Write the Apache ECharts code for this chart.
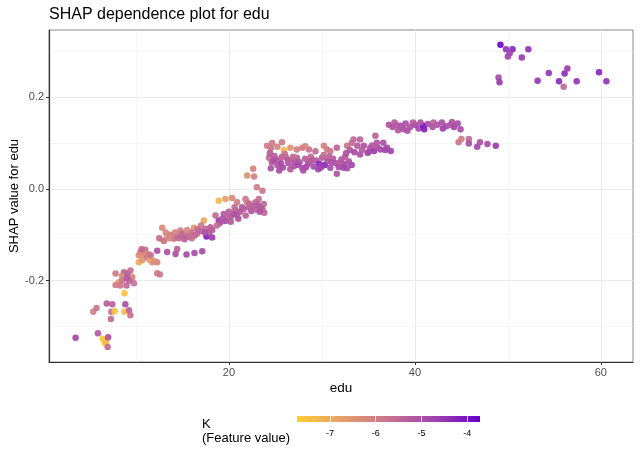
<!DOCTYPE html>
<html><head><meta charset="utf-8">
<script src="https://cdn.jsdelivr.net/npm/echarts@6/dist/echarts.min.js"></script>
<style>html,body{margin:0;padding:0;background:#fff}#c{width:640px;height:457px}</style>
</head><body><div id="c"></div>
<script>
// [edu, SHAP value, K]
const lowEduSparse = [
 [3.5,-0.325,-4.8],[5.9,-0.315,-5.2],[6.4,-0.327,-7.6],[6.65,-0.337,-7.5],[6.8,-0.332,-7.3],[7.0,-0.324,-5.0],[6.95,-0.345,-5.5],
 [5.4,-0.268,-6.0],[5.75,-0.26,-5.8],[6.85,-0.25,-5.3],[7.45,-0.252,-5.4],[7.35,-0.268,-5.6],[7.7,-0.267,-7.5],[7.3,-0.284,-5.6],
 [8.85,-0.252,-5.0],[8.75,-0.268,-7.4],[9.25,-0.265,-5.4],[9.4,-0.276,-5.7],[8.75,-0.228,-7.5]
];
const eduAround8 = [
 [7.8,-0.185,-5.9],[8.15,-0.204,-6.6],[7.8,-0.21,-6.0],[8.7,-0.182,-5.6],[9.1,-0.185,-5.3],[9.4,-0.178,-5.6],[9.6,-0.193,-6.1],
 [9.77,-0.206,-5.7],[9.27,-0.2,-5.4],[8.5,-0.2,-5.8],[8.98,-0.211,-5.5],[8.3,-0.211,-5.9],[8.5,-0.19,-6.2],[9.0,-0.195,-5.2]
];
const eduAround11 = [
 [10.48,-0.138,-6.0],[11.0,-0.133,-5.7],[10.3,-0.145,-6.3],[10.84,-0.145,-6.5],[10.3,-0.16,-7.0],[10.67,-0.156,-6.6],[11.38,-0.143,-5.6],
 [11.74,-0.16,-6.4],[12.28,-0.16,-6.2],[12.28,-0.184,-5.9],[12.56,-0.187,-5.9],[12.28,-0.135,-5.0],[13.0,-0.114,-5.8],[13.35,-0.138,-5.0],
 [14.25,-0.142,-5.0],[14.43,-0.131,-5.3],[15.43,-0.143,-4.9],[16.29,-0.14,-4.9],[17.12,-0.136,-4.9],
 [10.9,-0.14,-6.2],[11.2,-0.15,-6.0],[11.5,-0.155,-6.8],[10.6,-0.132,-5.5],[12.0,-0.158,-6.3],[11.6,-0.145,-5.8]
];
const eduAround15 = [
 [12.82,-0.085,-6.3],[13.35,-0.104,-6.6],[12.99,-0.113,-6.0],[14.06,-0.109,-5.8],[14.78,-0.091,-6.0],[15.32,-0.102,-5.7],[15.68,-0.105,-5.6],
 [16.22,-0.085,-6.7],[16.58,-0.098,-5.8],[17.29,-0.069,-6.9],[17.58,-0.104,-4.2],[18.19,-0.106,-4.6],[17.47,-0.087,-5.5],[18.01,-0.084,-5.4],
 [13.7,-0.1,-5.9],[14.4,-0.104,-5.6],[14.2,-0.095,-6.1],[15.0,-0.097,-5.8],[15.9,-0.095,-5.6],[16.3,-0.102,-5.5],[16.9,-0.092,-5.4],
 [15.5,-0.09,-6.2],[14.6,-0.108,-5.5],[13.6,-0.108,-6.2],[17.0,-0.08,-5.8],[17.9,-0.095,-5.2],[16.0,-0.108,-5.7],[12.5,-0.108,-5.6],
 [13.2,-0.095,-6.2],[14.9,-0.1,-5.5],[16.6,-0.088,-5.5],[17.4,-0.095,-5.0],[15.2,-0.11,-5.3]
];
const eduAround21 = [
 [18.9,-0.069,-4.6],[18.55,-0.058,-5.5],[19.44,-0.055,-5.2],[20.16,-0.062,-5.1],[20.88,-0.058,-5.2],[20.7,-0.047,-5.3],[21.59,-0.044,-5.4],
 [22.13,-0.04,-5.3],[22.85,-0.029,-5.4],[23.39,-0.04,-5.3],[23.74,-0.033,-5.5],[23.2,-0.022,-5.6],[21.96,-0.029,-5.9],[18.9,-0.026,-7.3],
 [19.62,-0.022,-6.7],[20.34,-0.02,-6.3],[20.88,-0.029,-6.0],[21.77,-0.022,-5.9],
 [19.0,-0.075,-5.0],[19.6,-0.07,-4.9],[20.2,-0.072,-5.2],[20.5,-0.055,-5.0],[21.2,-0.05,-5.2],[21.8,-0.058,-5.3],[22.4,-0.048,-5.1],
 [22.9,-0.045,-5.4],[23.6,-0.045,-5.2],[23.8,-0.052,-5.5],[19.9,-0.06,-5.4],[21.0,-0.065,-5.1],[22.2,-0.033,-5.5],[18.7,-0.08,-5.6],
 [18.2,-0.09,-5.3],[20.6,-0.04,-5.6],[23.1,-0.035,-5.2],
 [19.3,-0.065,-5.1],[20.0,-0.05,-5.3],[21.4,-0.04,-5.2],[22.6,-0.038,-5.3],[23.3,-0.05,-5.1]
];
const eduStep23 = [
 [21.95,0.029,-6.4],[22.6,0.044,-6.1],[22.7,0.027,-6.0],[23.0,0.0035,-5.9],[23.6,-0.004,-5.8]
];
const eduUpperBand = [
 [24.1,0.094,-6.0],[24.65,0.1,-5.9],[25.7,0.102,-5.9],[25.9,0.085,-7.2],[24.5,0.088,-5.8],[25.2,0.092,-6.1],[26.6,0.09,-6.4],
 [27.3,0.086,-6.0],[27.9,0.09,-5.9],[28.6,0.086,-5.7],[29.3,0.082,-5.6],[30.2,0.094,-6.1],[30.56,0.086,-5.9],[30.9,0.082,-5.8],
 [31.6,0.09,-5.4],[28.2,0.093,-6.2]
];
const eduLowerBand = [
 [24.3,0.068,-5.6],[24.6,0.058,-5.3],[24.9,0.072,-5.4],[25.2,0.052,-5.1],[25.5,0.064,-5.2],[25.8,0.047,-4.9],[26.1,0.07,-5.5],
 [26.4,0.056,-5.0],[26.7,0.064,-5.3],[27.0,0.05,-5.0],[27.3,0.068,-5.4],[27.6,0.058,-5.1],[27.9,0.045,-4.8],[28.2,0.066,-5.3],
 [28.5,0.055,-5.0],[28.8,0.07,-5.5],[29.1,0.049,-4.9],[29.4,0.062,-5.2],[29.7,0.055,-4.4],[30.0,0.068,-5.3],[30.3,0.052,-4.3],
 [30.6,0.062,-5.0],[30.9,0.046,-4.9],[31.2,0.066,-5.2],[31.5,0.056,-5.0],[31.8,0.048,-4.9],[32.1,0.064,-5.1],[32.4,0.054,-4.8],
 [32.7,0.045,-4.9],[32.9,0.06,-5.0],[24.5,0.045,-5.0],[25.4,0.04,-4.9],[26.6,0.043,-5.1],[28.0,0.04,-5.0],[29.6,0.043,-4.8],
 [31.6,0.033,-5.1],[30.2,0.074,-5.6],[26.0,0.076,-5.7],[24.4,0.078,-5.2],[25.0,0.065,-5.3],[27.1,0.06,-5.1],[28.7,0.06,-5.2],
 [30.8,0.07,-5.4],[32.5,0.07,-5.2],[33.2,0.052,-4.8],
 [24.8,0.062,-5.0],[25.6,0.055,-4.9],[26.3,0.063,-5.2],[27.4,0.053,-4.9],[28.3,0.048,-4.9],[29.0,0.063,-5.3],[29.9,0.047,-4.7],
 [31.0,0.058,-5.0],[31.9,0.057,-5.2],[32.3,0.046,-4.8],[26.9,0.07,-5.6],[25.7,0.07,-5.5]
];
const eduAround35 = [
 [32.7,0.094,-5.8],[33.4,0.108,-5.5],[34.1,0.108,-5.4],[33.8,0.094,-5.2],[34.5,0.094,-5.0],[35.2,0.09,-5.0],[35.75,0.116,-5.4],
 [35.9,0.101,-5.1],[36.6,0.101,-5.0],[37.0,0.09,-4.8],[37.4,0.083,-4.7],[36.3,0.086,-4.9],[34.1,0.075,-5.0],[34.9,0.079,-5.0],
 [35.6,0.083,-4.6],[33.0,0.085,-5.1],[33.5,0.08,-4.9],[34.3,0.085,-5.3],[35.0,0.08,-4.9],[35.4,0.095,-5.2],[36.0,0.09,-5.0],
 [36.8,0.085,-4.8],[33.2,0.1,-5.6],[32.6,0.078,-5.0]
];
const eduAround41 = [
 [37.2,0.14,-5.1],[37.6,0.135,-5.0],[38.0,0.14,-5.2],[38.5,0.138,-5.0],[39.0,0.143,-5.0],[39.5,0.135,-5.1],[40.0,0.14,-4.9],
 [40.4,0.132,-4.8],[40.9,0.138,-3.9],[41.4,0.142,-4.9],[41.9,0.135,-5.0],[42.4,0.14,-5.1],[42.9,0.145,-5.0],[43.4,0.137,-4.9],
 [43.8,0.14,-5.2],[44.2,0.135,-4.8],[44.6,0.143,-4.9],[38.8,0.13,-5.0],[39.8,0.145,-5.2],[41.0,0.13,-4.2],[42.0,0.145,-5.3],
 [43.0,0.132,-4.7],[44.0,0.146,-5.1],[37.8,0.145,-5.3],[40.6,0.145,-5.0],[38.2,0.128,-5.1],[44.9,0.13,-4.9],[39.2,0.127,-5.0]
];
const eduAround46 = [
 [44.7,0.102,-5.8],[45.0,0.109,-6.0],[45.8,0.109,-5.6],[45.8,0.099,-5.0],[46.7,0.092,-4.8],[47.0,0.102,-5.0],[47.8,0.098,-4.9],[48.7,0.094,-4.6]
];
const highEdu = [
 [49.2,0.315,-3.8],[49.8,0.305,-4.5],[50.5,0.305,-4.3],[50.2,0.296,-4.7],[50.0,0.289,-4.8],[51.5,0.287,-4.6],[52.2,0.305,-4.5],
 [49.0,0.243,-4.9],[49.1,0.233,-4.6],[53.2,0.236,-4.5],[54.4,0.253,-4.5],[55.5,0.235,-4.4],[56.0,0.223,-5.5],[56.1,0.252,-4.4],
 [56.4,0.263,-4.6],[57.4,0.235,-4.5],[59.8,0.255,-4.3],[60.6,0.235,-4.5]
];
const xTicks = [20, 40, 60];
const yTicks = [-0.2, 0, 0.2];
const kTicks = [-7, -6, -5, -4];
const K_MIN = -7.72, K_MAX = -3.72;
const X_MIN = 0.64, X_MAX = 63.46, Y_MIN = -0.378, Y_MAX = 0.347;
const colorStops = ['#FFCC33', '#E69F6B', '#C8728F', '#A143AE', '#6600CC'];

const points = [].concat(lowEduSparse, eduAround8, eduAround11, eduAround15, eduAround21, eduStep23,
  eduUpperBand, eduLowerBand, eduAround35, eduAround41, eduAround46, highEdu);

const FONT = 'Liberation Sans, Arial, sans-serif';
const chart = echarts.init(document.getElementById('c'), null, {renderer: 'canvas'});
const option = {
  animation: false,
  backgroundColor: '#fff',
  textStyle: {fontFamily: FONT},
  title: {
    text: 'SHAP dependence plot for edu', left: 44, top: 2,
    textStyle: {fontFamily: FONT, fontSize: 16, fontWeight: 'normal', color: '#000'}
  },
  grid: [
    {left: 49, right: 7, top: 30, bottom: 95, show: true, borderColor: '#8a8a8a', borderWidth: 1,
     backgroundColor: 'transparent', containLabel: false, outerBoundsMode: 'none'},
    {left: 297, width: 183, top: 416, height: 6, containLabel: false, outerBoundsMode: 'none'}
  ],
  xAxis: [{
    type: 'value', min: X_MIN, max: X_MAX, splitNumber: 3,
    name: 'edu', nameLocation: 'middle', nameGap: 19, nameMoveOverlap: false,
    nameTextStyle: {fontFamily: FONT, fontSize: 13.5, color: '#000'},
    axisLine: {show: true, onZero: false, lineStyle: {color: '#333', width: 1.2}},
    axisTick: {show: true, length: 3, lineStyle: {color: '#333'}, customValues: xTicks},
    axisLabel: {customValues: xTicks, fontFamily: FONT, fontSize: 11, color: '#4d4d4d', margin: 5},
    splitLine: {show: true, lineStyle: {color: '#ebebeb', width: 1}},
    minorTick: {show: false, splitNumber: 2},
    minorSplitLine: {show: true, lineStyle: {color: '#f2f2f2', width: 0.7}}
  }, {
    gridIndex: 1, type: 'value', min: K_MIN, max: K_MAX, z: 5,
    axisLine: {show: false},
    axisTick: {show: true, inside: true, length: 6, customValues: kTicks, lineStyle: {color: 'rgba(255,255,255,0.75)', width: 1}},
    axisLabel: {customValues: kTicks, fontFamily: FONT, fontSize: 9, color: '#000', margin: 7},
    splitLine: {show: false}
  }],
  yAxis: [{
    type: 'value', min: Y_MIN, max: Y_MAX, splitNumber: 3,
    name: 'SHAP value for edu', nameLocation: 'middle', nameGap: 28, nameMoveOverlap: false,
    nameTextStyle: {fontFamily: FONT, fontSize: 13, color: '#000'},
    axisLine: {show: true, onZero: false, lineStyle: {color: '#333', width: 1.2}},
    axisTick: {show: true, length: 3, lineStyle: {color: '#333'}, customValues: yTicks},
    axisLabel: {customValues: yTicks, fontFamily: FONT, fontSize: 11, color: '#4d4d4d', margin: 5,
      formatter: v => v.toFixed(1)},
    splitLine: {show: true, lineStyle: {color: '#ebebeb', width: 1}},
    minorTick: {show: false, splitNumber: 2},
    minorSplitLine: {show: true, lineStyle: {color: '#f2f2f2', width: 0.7}}
  }, {
    gridIndex: 1, type: 'value', min: 0, max: 1, show: false
  }],
  visualMap: {
    type: 'continuous', show: false, dimension: 2, seriesIndex: 0,
    min: K_MIN, max: K_MAX, inRange: {color: colorStops}
  },
  series: [{
    type: 'scatter', data: points, symbolSize: 6.5,
    itemStyle: {opacity: 0.92}
  }, {
    type: 'custom', xAxisIndex: 1, yAxisIndex: 1, data: [[K_MIN, K_MAX]], silent: true,
    renderItem: function (params, api) {
      const p0 = api.coord([api.value(0), 0]);
      const p1 = api.coord([api.value(1), 1]);
      return {
        type: 'rect',
        shape: {x: p0[0], y: p1[1], width: p1[0] - p0[0], height: p0[1] - p1[1]},
        style: {fill: new echarts.graphic.LinearGradient(0, 0, 1, 0,
          colorStops.map((c, i) => ({offset: i / (colorStops.length - 1), color: c})))}
      };
    }
  }],
  graphic: [{
    type: 'text', left: 202, top: 417,
    style: {text: 'K\n(Feature value)', font: '13px ' + FONT, fill: '#000', lineHeight: 14}
  }]
};
chart.setOption(option);
</script></body></html>
